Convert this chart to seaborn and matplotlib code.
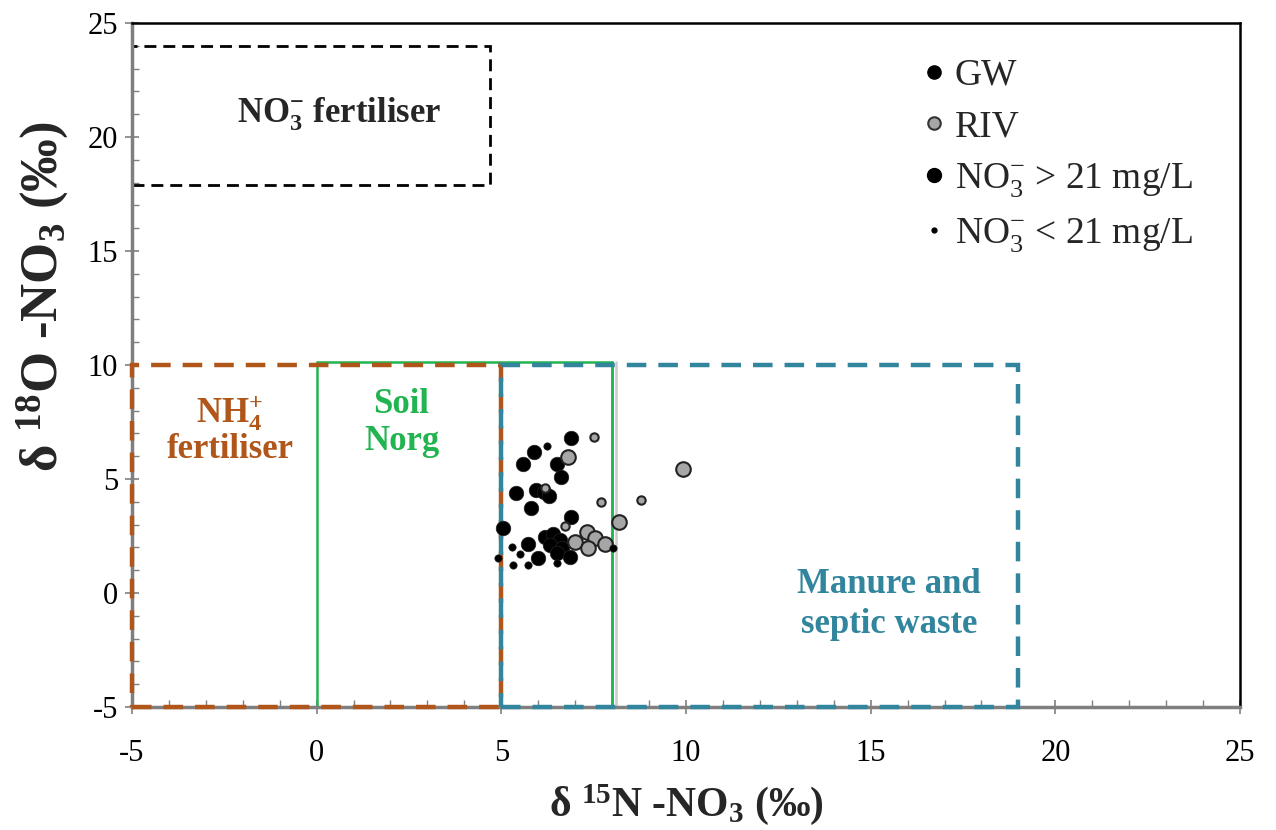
import numpy as np
import pandas as pd
import matplotlib
matplotlib.use("Agg")
import matplotlib.pyplot as plt
import matplotlib.patheffects as pe
import seaborn as sns
from matplotlib.patches import Rectangle
from matplotlib.lines import Line2D
from matplotlib.ticker import MultipleLocator

# --- data (d15N, d18O) ---
gw_high_x = [6.90, 5.89, 5.60, 6.52, 6.61, 5.40, 5.95, 6.15, 6.30, 5.80, 6.90, 5.05,
             6.19, 6.41, 6.59, 6.32, 6.63, 6.50, 5.73, 6.86, 6.00]
gw_high_y = [6.78, 6.17, 5.64, 5.64, 5.07, 4.37, 4.50, 4.45, 4.25, 3.74, 3.35, 2.84,
             2.47, 2.57, 2.32, 2.11, 1.96, 1.75, 2.14, 1.59, 1.52]
gw_low_x = [6.23, 5.28, 5.51, 4.92, 5.32, 5.73, 6.50, 8.03]
gw_low_y = [6.46, 2.03, 1.70, 1.52, 1.23, 1.23, 1.30, 1.99]
riv_high_x = [6.81, 9.91, 8.19, 7.31, 7.54, 6.99, 7.81, 7.35]
riv_high_y = [5.95, 5.42, 3.13, 2.69, 2.43, 2.25, 2.14, 1.96]
riv_low_x = [7.51, 7.69, 8.79, 6.72, 6.18]
riv_low_y = [6.86, 3.98, 4.08, 2.95, 4.59]

# source boxes: (x0, x1, y0, y1)
box_no3_fert = (-5, 4.7, 17.9, 24)
box_nh4_fert = (-5, 5, -5, 10)
box_soil = (0, 8, -5, 10.15)
box_manure = (5, 19, -5, 10)

df = pd.concat([
    pd.DataFrame({"x": gw_high_x, "y": gw_high_y, "src": "GW", "conc": "high"}),
    pd.DataFrame({"x": gw_low_x, "y": gw_low_y, "src": "GW", "conc": "low"}),
    pd.DataFrame({"x": riv_high_x, "y": riv_high_y, "src": "RIV", "conc": "high"}),
    pd.DataFrame({"x": riv_low_x, "y": riv_low_y, "src": "RIV", "conc": "low"}),
], ignore_index=True)

sns.set_style("ticks")
plt.rcParams["font.family"] = ["Liberation Serif", "DejaVu Serif"]
plt.rcParams["mathtext.default"] = "regular"
plt.rcParams["axes.unicode_minus"] = False

brown = "#B0561A"
green = "#22B450"
teal = "#31859C"
riv_gray = "#A6A6A6"

fig = plt.figure(figsize=(12.76, 8.30), dpi=100)
ax = fig.add_axes([0.1034, 0.1482, 0.8684, 0.8241])

def draw_box(b, **kw):
    x0, x1, y0, y1 = b
    ax.add_patch(Rectangle((x0, y0), x1 - x0, y1 - y0, fill=False, clip_on=False, **kw))

draw_box(box_no3_fert, edgecolor="black", lw=2, linestyle=(0, (4.3, 2.5)), zorder=2)
draw_box(box_nh4_fert, edgecolor=brown, lw=3.2, linestyle=(0, (4.4, 2.7)), zorder=3)
draw_box(box_soil, edgecolor=green, lw=1.8, zorder=2)
# soft shadow on the right edge of the soil box (as in the Excel original)
ax.plot([box_soil[1], box_soil[1]], [box_soil[2], box_soil[3]], color=green, lw=1.8, zorder=2,
        path_effects=[pe.SimpleLineShadow(offset=(3, 0), shadow_color="#999999", alpha=0.5),
                      pe.Normal()])
draw_box(box_manure, edgecolor=teal, lw=3.2, linestyle=(0, (4.4, 2.7)), zorder=3)

for conc, size in [("high", 110), ("low", 28)]:
    for src, col in [("GW", "black"), ("RIV", riv_gray)]:
        sub = df[(df.src == src) & (df.conc == conc)]
        s = size if not (src == "RIV" and conc == "low") else 36
        sns.scatterplot(data=sub, x="x", y="y", color=col, s=s, edgecolor="#222222",
                        linewidth=1.5 if src == "RIV" else 0.5, ax=ax, legend=False, zorder=5)

ax.set_xlim(-5, 25)
ax.set_ylim(-5, 25)
ax.xaxis.set_major_locator(MultipleLocator(5))
ax.yaxis.set_major_locator(MultipleLocator(5))
ax.xaxis.set_minor_locator(MultipleLocator(1))
ax.yaxis.set_minor_locator(MultipleLocator(1))
ax.tick_params(which="major", direction="inout", length=10, width=1.2, color="#808080",
               labelsize=22, labelcolor="black")
ax.tick_params(axis="x", which="major", pad=18)
ax.tick_params(axis="y", which="major", pad=5)
ax.tick_params(which="minor", direction="in", length=5, width=1, color="#808080")
for side in ["left", "bottom"]:
    ax.spines[side].set_color("#7F7F7F")
    ax.spines[side].set_linewidth(2.5)
for side in ["top", "right"]:
    ax.spines[side].set_color("black")
    ax.spines[side].set_linewidth(1.8)

ax.set_xlabel("δ $^{15}$N -NO$_3$ (‰)", fontsize=30, fontweight="bold")
ax.set_ylabel("δ $^{18}$O -NO$_3$ (‰)", fontsize=38, fontweight="bold")
ax.xaxis.set_label_coords(0.5, -0.143)
ax.xaxis.label.set_va("center")
ax.yaxis.set_label_coords(-0.081, 0.60)
ax.yaxis.label.set_va("center")

ax.text(0.6, 21.0, "NO$_3^{-}$ fertiliser", fontsize=25, fontweight="bold",
        ha="center", va="center")
ax.text(-2.35, 7.15, "NH$_4^{+}$\nfertiliser", fontsize=25, fontweight="bold",
        color=brown, ha="center", va="center", linespacing=1.0)
ax.text(2.3, 7.45, "Soil\nNorg", fontsize=25, fontweight="bold", color=green,
        ha="center", va="center", linespacing=1.15)
ax.text(15.5, -0.5, "Manure and\nseptic waste", fontsize=25, fontweight="bold",
        color=teal, ha="center", va="center", linespacing=1.25)

handles = [
    Line2D([], [], ls="", marker="o", ms=9.5, mfc="black", mec="black", label="GW"),
    Line2D([], [], ls="", marker="o", ms=9, mfc=riv_gray, mec="#333333", mew=1.5, label="RIV"),
    Line2D([], [], ls="", marker="o", ms=10, mfc="black", mec="black",
           label="NO$_3^{-}$ > 21 mg/L"),
    Line2D([], [], ls="", marker="o", ms=3.5, mfc="black", mec="black",
           label="NO$_3^{-}$ < 21 mg/L"),
]
ax.legend(handles=handles, loc="upper right", bbox_to_anchor=(0.974, 0.976), frameon=False,
          fontsize=27, handlelength=0.5, handletextpad=0.3, labelspacing=0.45, borderpad=0)

fig.savefig("out.png", dpi=100)
